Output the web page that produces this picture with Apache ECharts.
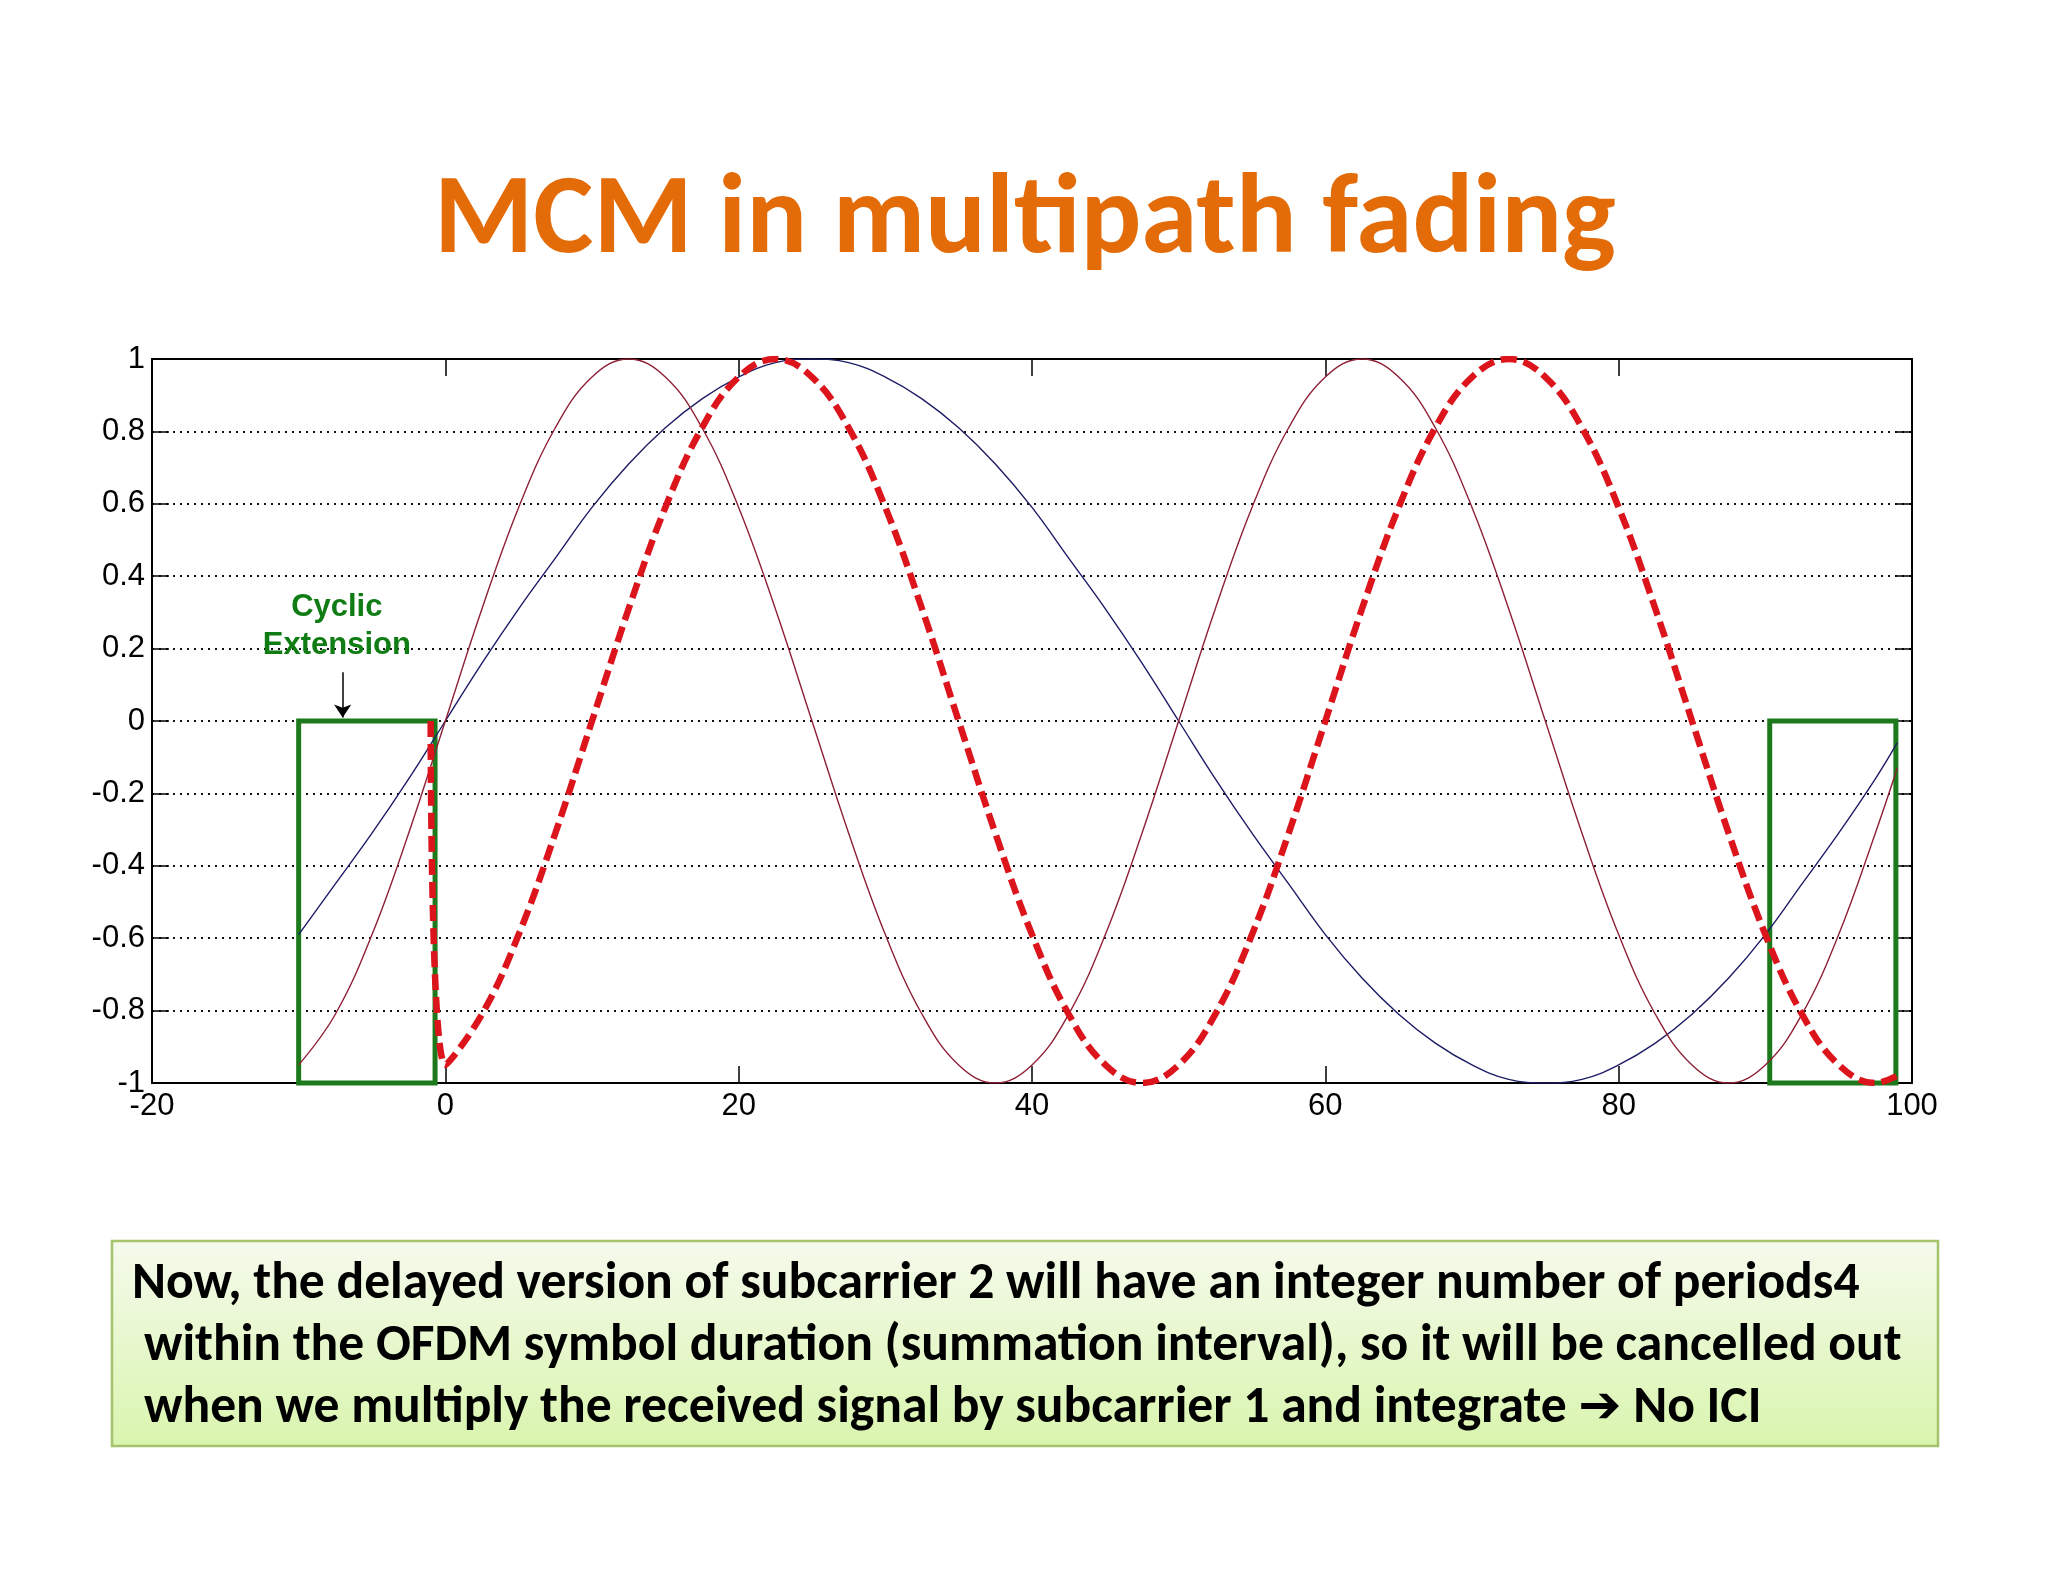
<!DOCTYPE html>
<html><head><meta charset="utf-8">
<script src="https://cdn.jsdelivr.net/npm/echarts@6.0.0/dist/echarts.min.js"></script>
<style>html,body{margin:0;padding:0;background:#fff;}#c{width:2048px;height:1582px;}</style>
</head><body><div id="c"></div>
<script>
// ---------- data ----------
const titleText = "MCM in multipath fading";
const noteLines = [
  "Now, the delayed version of subcarrier 2 will have an integer number of periods4",
  "within the OFDM symbol duration (summation interval), so it will be cancelled out",
  "when we multiply the received signal by subcarrier 1 and integrate \u2794 No ICI"
];
const xTickMin = -20, xTickMax = 100, xTickStep = 20;
const yTickMin = -1, yTickMax = 1, yTickStep = 0.2;

// sample positions (time) for subcarrier 1 and subcarrier 2
const tX = [-10,-7.5,-5,-2.5,0,2.5,5,7.5,10,12.5,15,17.5,20,22.5,25,27.5,30,32.5,35,37.5,40,42.5,45,47.5,50,52.5,55,57.5,60,62.5,65,67.5,70,72.5,75,77.5,80,82.5,85,87.5,90,92.5,95,97.5,99];
// subcarrier 1 (blue, thin)
const sub1 = [-0.59,-0.45,-0.31,-0.16,0,0.16,0.31,0.45,0.59,0.71,0.81,0.89,0.95,0.99,1,0.99,0.95,0.89,0.81,0.71,0.59,0.45,0.31,0.16,0,-0.16,-0.31,-0.45,-0.59,-0.71,-0.81,-0.89,-0.95,-0.99,-1,-0.99,-0.95,-0.89,-0.81,-0.71,-0.59,-0.45,-0.31,-0.16,-0.06];
// subcarrier 2 (red, thin)
const sub2 = [-0.95,-0.81,-0.59,-0.31,0,0.31,0.59,0.81,0.95,1,0.95,0.81,0.59,0.31,0,-0.31,-0.59,-0.81,-0.95,-1,-0.95,-0.81,-0.59,-0.31,0,0.31,0.59,0.81,0.95,1,0.95,0.81,0.59,0.31,0,-0.31,-0.59,-0.81,-0.95,-1,-0.95,-0.81,-0.59,-0.31,-0.13];
// delayed subcarrier 2 (red, thick dashed)
const delayedX = [-1,0,2.5,5,7.5,10,12.5,15,17.5,20,22.5,25,27.5,30,32.5,35,37.5,40,42.5,45,47.5,50,52.5,55,57.5,60,62.5,65,67.5,70,72.5,75,77.5,80,82.5,85,87.5,90,92.5,95,97.5,99];
const delayed2 = [0,-0.95,-0.81,-0.59,-0.31,0,0.31,0.59,0.81,0.95,1,0.95,0.81,0.59,0.31,0,-0.31,-0.59,-0.81,-0.95,-1,-0.95,-0.81,-0.59,-0.31,0,0.31,0.59,0.81,0.95,1,0.95,0.81,0.59,0.31,0,-0.31,-0.59,-0.81,-0.95,-1,-0.98];

// cyclic-extension boxes [xStart, xEnd], y range
const boxXRanges = [[-10, -0.7], [90.3, 98.9]];
const boxYRange = [0, -1];
const annotationText = "Cyclic\nExtension";
const annotationPos = [-7.4, 0.262];
const arrowFrom = [-7.0, 0.135];
const arrowTo = [-7.0, 0.01];

// ---------- helpers ----------
function zip(xs, ys) { return xs.map((x, i) => [x, ys[i]]); }
function fitSize(text, weight, family, target) {
  const ctx = document.createElement('canvas').getContext('2d');
  ctx.font = weight + ' 100px ' + family;
  return 100 * target / ctx.measureText(text).width;
}

const titleFamily = 'Carlito, Roboto, "Open Sans", sans-serif';
const noteFamily = 'Carlito, Roboto, "DejaVu Sans", sans-serif';
const titleSize = fitSize(titleText, 'bold', titleFamily, 1182);
const noteSize = fitSize(noteLines[1], 'bold', noteFamily, 1758);

const axisFont = '"Liberation Sans", Arial, sans-serif';
const GREEN = '#1c7a1c';

const chart = echarts.init(document.getElementById('c'), null, {renderer: 'canvas'});

const commonX = {
  type: 'value', min: xTickMin, max: xTickMax, interval: xTickStep,
  axisLine: {show: true, onZero: false, lineStyle: {color: '#000', width: 2}},
  axisTick: {show: true, inside: true, length: 17, lineStyle: {color: '#000', width: 1.5}},
  splitLine: {show: false}
};
const commonY = {
  type: 'value', min: yTickMin, max: yTickMax, interval: yTickStep,
  axisLine: {show: true, onZero: false, lineStyle: {color: '#000', width: 2}},
  axisTick: {show: true, inside: true, length: 17, lineStyle: {color: '#000', width: 1.5}}
};

chart.setOption({
  animation: false,
  backgroundColor: '#ffffff',
  grid: {left: 152, top: 359, width: 1760, height: 724, containLabel: false},
  xAxis: [
    Object.assign({}, commonX, {position: 'bottom',
      axisLabel: {show: true, margin: 8, fontSize: 31, color: '#000', fontFamily: axisFont}}),
    Object.assign({}, commonX, {position: 'top', axisLabel: {show: false}})
  ],
  yAxis: [
    Object.assign({}, commonY, {position: 'left',
      axisLabel: {show: true, margin: 7, fontSize: 31, color: '#000', fontFamily: axisFont},
      splitLine: {show: true, lineStyle: {color: '#111', width: 2, type: [2, 5]}}}),
    Object.assign({}, commonY, {position: 'right', axisLabel: {show: false}, splitLine: {show: false}})
  ],
  series: [
    {
      name: 'subcarrier 1', type: 'line', smooth: 0.4, symbol: 'none',
      data: zip(tX, sub1),
      lineStyle: {color: '#1c1c66', width: 1.4},
      z: 3
    },
    {
      name: 'subcarrier 2', type: 'line', smooth: 0.4, symbol: 'none',
      data: zip(tX, sub2),
      lineStyle: {color: '#8e2036', width: 1.4},
      z: 3
    },
    {
      name: 'delayed subcarrier 2', type: 'line', smooth: 0.4, symbol: 'none',
      data: zip(delayedX, delayed2),
      lineStyle: {color: '#dc141c', width: 6.5, type: [16, 7]},
      z: 4
    },
    {
      name: 'boxes', type: 'scatter', symbolSize: 1,
      itemStyle: {color: 'rgba(0,0,0,0)'},
      data: [{value: annotationPos, label: {show: true, position: 'inside', formatter: annotationText,
        fontSize: 31, lineHeight: 38, fontWeight: 'bold', color: '#0f7d14', fontFamily: axisFont, align: 'center',
        textBorderWidth: 0, opacity: 1}}],
      markArea: {
        silent: true,
        itemStyle: {color: 'rgba(0,0,0,0)', borderColor: GREEN, borderWidth: 5},
        data: boxXRanges.map(r => [{coord: [r[0], boxYRange[0]]}, {coord: [r[1], boxYRange[1]]}])
      },
      markLine: {
        silent: true, symbol: ['none', 'arrow'], symbolSize: 13,
        label: {show: false},
        lineStyle: {color: '#000', width: 1.5, type: 'solid'},
        data: [[{coord: arrowFrom}, {coord: arrowTo}]]
      },
      z: 5
    }
  ],
  graphic: [
    {
      type: 'text', x: 1025, y: 224, z: 10,
      style: {text: titleText, fontSize: titleSize, fontWeight: 'bold', fontFamily: titleFamily,
        fill: '#e36c09', align: 'center', verticalAlign: 'middle'}
    },
    {
      type: 'rect', z: 1,
      shape: {x: 112, y: 1241, width: 1826, height: 205},
      style: {
        fill: new echarts.graphic.LinearGradient(0, 0, 0, 1, [
          {offset: 0, color: '#f5faec'}, {offset: 1, color: '#d9f5ae'}]),
        stroke: '#a5c36c', lineWidth: 2.5
      }
    },
    {type: 'text', x: 132, y: 1285, z: 10,
      style: {text: noteLines[0], fontSize: noteSize, fontWeight: 'bold', fontFamily: noteFamily, fill: '#000', verticalAlign: 'middle'}},
    {type: 'text', x: 144, y: 1347, z: 10,
      style: {text: noteLines[1], fontSize: noteSize, fontWeight: 'bold', fontFamily: noteFamily, fill: '#000', verticalAlign: 'middle'}},
    {type: 'text', x: 144, y: 1409, z: 10,
      style: {text: noteLines[2], fontSize: noteSize, fontWeight: 'bold', fontFamily: noteFamily, fill: '#000', verticalAlign: 'middle'}}
  ]
});
</script>
</body></html>
